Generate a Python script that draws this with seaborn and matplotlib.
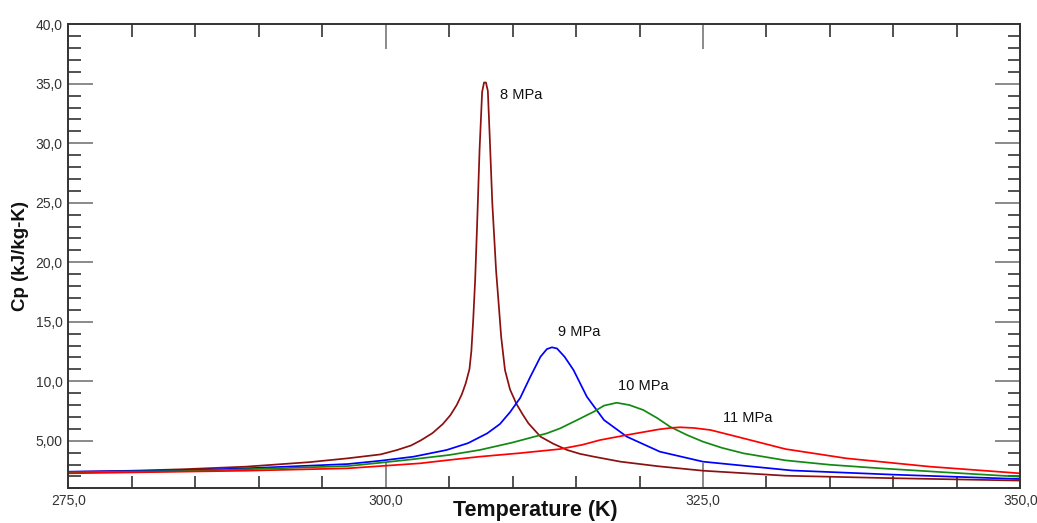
import numpy as np
import pandas as pd
import matplotlib
matplotlib.use("Agg")
import matplotlib.pyplot as plt
import seaborn as sns
from matplotlib.ticker import FixedLocator, FixedFormatter, MultipleLocator

# ---- data ----
t_8 = [275.0, 280.0, 284.0, 289.0, 294.0, 297.0, 299.6, 300.9, 302.0, 302.8, 303.7, 304.5,
       305.1, 305.6, 306.0, 306.3, 306.6, 306.75, 306.9, 307.05, 307.2, 307.4, 307.6, 307.75,
       307.9, 308.05, 308.2, 308.4, 308.7, 308.9, 309.1, 309.4, 309.8, 310.3, 310.8, 311.25,
       312.2, 313.2, 314.3, 315.3, 316.4, 318.5, 321.5, 325.0, 331.5, 340.0, 350.0]
cp_8 = [2.37, 2.48, 2.6, 2.82, 3.2, 3.52, 3.85, 4.22, 4.6, 5.05, 5.65, 6.4,
        7.15, 8.0, 8.9, 9.8, 11.0, 12.5, 15.2, 18.5, 23.0, 29.5, 34.3, 35.1,
        35.1, 34.4, 30.5, 25.0, 19.3, 16.55, 13.74, 10.94, 9.3, 8.1, 7.2, 6.46,
        5.34, 4.75, 4.22, 3.9, 3.66, 3.24, 2.85, 2.48, 2.06, 1.85, 1.65]

t_9 = [275.0, 284.0, 289.0, 297.0, 299.6, 302.2, 304.8, 306.5, 308.0, 309.0, 309.8, 310.6,
       311.4, 312.2, 312.7, 313.1, 313.5, 314.1, 314.8, 315.85, 317.2, 319.0, 321.6, 325.0,
       332.0, 340.0, 350.0]
cp_9 = [2.4, 2.5, 2.68, 3.04, 3.32, 3.66, 4.22, 4.8, 5.62, 6.4, 7.4, 8.6,
        10.38, 12.06, 12.7, 12.85, 12.75, 12.05, 10.94, 8.7, 6.74, 5.34, 4.08, 3.24,
        2.5, 2.15, 1.78]

t_10 = [275.0, 284.0, 289.0, 297.0, 299.6, 302.2, 305.0, 307.4, 310.0, 312.7, 313.75, 315.2,
        316.4, 317.2, 318.2, 319.2, 320.3, 321.4, 322.4, 323.7, 325.0, 326.5, 328.2, 331.5,
        335.0, 339.0, 344.0, 350.0]
cp_10 = [2.35, 2.45, 2.6, 2.87, 3.15, 3.45, 3.8, 4.22, 4.85, 5.62, 6.04, 6.8,
         7.44, 7.95, 8.19, 8.0, 7.58, 6.9, 6.18, 5.5, 4.92, 4.4, 3.94, 3.35,
         2.98, 2.68, 2.35, 1.97]

t_11 = [275.0, 284.0, 289.0, 297.0, 299.6, 302.7, 305.0, 307.4, 310.5, 313.75, 315.5, 316.9,
        319.0, 321.5, 322.5, 323.2, 324.3, 325.6, 328.2, 331.5, 336.3, 342.9, 350.0]
cp_11 = [2.26, 2.4, 2.48, 2.68, 2.87, 3.1, 3.38, 3.66, 3.95, 4.3, 4.66, 5.06,
         5.48, 5.95, 6.08, 6.13, 6.07, 5.9, 5.2, 4.3, 3.52, 2.82, 2.26]

series_names = ["8 MPa", "9 MPa", "10 MPa", "11 MPa"]
label_pos_t = [309.0, 313.6, 318.3, 326.6]
label_pos_cp = [34.05, 14.1, 9.6, 6.9]

x_tick_vals = [275, 300, 325, 350]
x_tick_labels = ["275,0", "300,0", "325,0", "350,0"]
y_tick_vals = [5, 10, 15, 20, 25, 30, 35, 40]
y_tick_labels = ["5,00", "10,0", "15,0", "20,0", "25,0", "30,0", "35,0", "40,0"]

# ---- build table ----
frames = []
for name, t, cp in zip(series_names, [t_8, t_9, t_10, t_11], [cp_8, cp_9, cp_10, cp_11]):
    frames.append(pd.DataFrame({"T": t, "Cp": cp, "P": name}))
df = pd.concat(frames, ignore_index=True)

sns.set_theme(style="white")
plt.rcParams["font.family"] = ["Liberation Sans", "DejaVu Sans"]

fig = plt.figure(figsize=(10.37, 5.23), dpi=100)
ax = fig.add_axes([0.0659, 0.0663, 0.9180, 0.8874])

palette = {"8 MPa": "#8B1010", "9 MPa": "#0000FF", "10 MPa": "#128A12", "11 MPa": "#FF0000"}
sns.lineplot(data=df, x="T", y="Cp", hue="P", palette=palette, sort=False,
             estimator=None, units="P", linewidth=1.25, legend=False, ax=ax)

for name, tx, ty in zip(series_names, label_pos_t, label_pos_cp):
    ax.text(tx, ty, name, fontsize=10.5, color="#111111", va="center", ha="left")

ax.set_xlim(275, 350)
ax.set_ylim(1.0, 40.0)

ax.xaxis.set_major_locator(FixedLocator(x_tick_vals))
ax.xaxis.set_major_formatter(FixedFormatter(x_tick_labels))
ax.xaxis.set_minor_locator(MultipleLocator(5))
ax.yaxis.set_major_locator(FixedLocator(y_tick_vals))
ax.yaxis.set_major_formatter(FixedFormatter(y_tick_labels))
ax.yaxis.set_minor_locator(MultipleLocator(1))

ax.tick_params(which="both", direction="in", top=True, right=True, bottom=True, left=True,
               labelsize=10, labelcolor="#333333")
ax.tick_params(which="major", length=18, width=1.2, color="#777777", pad=4)
ax.tick_params(which="minor", length=9, width=1.1, color="#222222")

for sp in ax.spines.values():
    sp.set_color("#333333")
    sp.set_linewidth(1.4)

ax.set_xlabel("Temperature (K)", fontsize=15.5, fontweight="bold", color="#111111")
ax.xaxis.set_label_coords(0.4905, -0.026)
ax.set_ylabel("Cp (kJ/kg-K)", fontsize=13.5, fontweight="bold", color="#111111", labelpad=5)

fig.savefig("out.png", dpi=100)
